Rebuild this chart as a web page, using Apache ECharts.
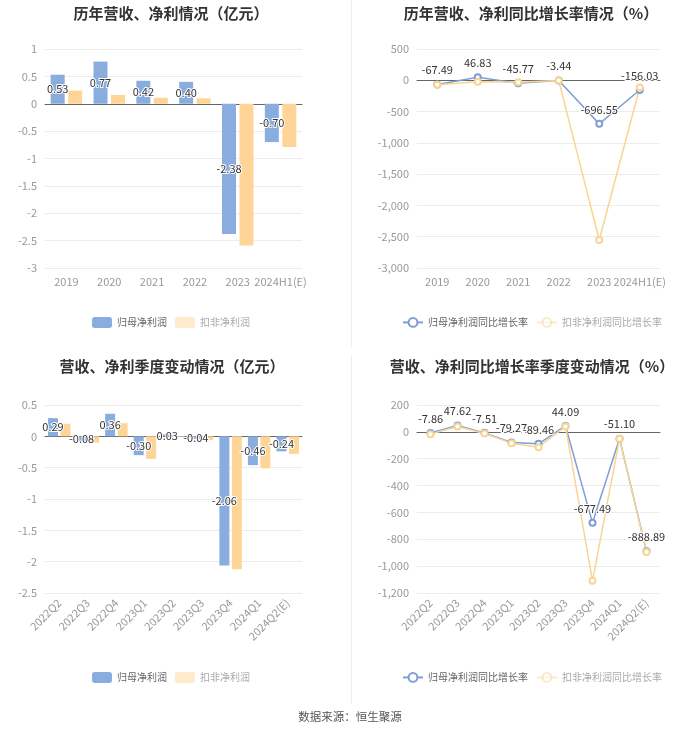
<!DOCTYPE html>
<html>
<head>
<meta charset="utf-8">
<script src="https://cdn.jsdelivr.net/npm/echarts@6/dist/echarts.min.js"></script>
<style>html,body{margin:0;padding:0;background:#fff}#c{width:700px;height:734px}</style>
</head>
<body>
<div id="c"></div>
<script>
const years = ['2019','2020','2021','2022','2023','2024H1(E)'];
const annualParent = [0.53, 0.77, 0.42, 0.40, -2.38, -0.70];
const annualDeducted = [0.24, 0.16, 0.11, 0.10, -2.59, -0.79];
const annualParentGrowth = [-67.49, 46.83, -45.77, -3.44, -696.55, -156.03];
const annualDeductedGrowth = [-72, -25, -32, -5, -2553, -115];

const quarters = ['2022Q2','2022Q3','2022Q4','2023Q1','2023Q2','2023Q3','2023Q4','2024Q1','2024Q2(E)'];
const qParent = [0.29, -0.08, 0.36, -0.30, 0.03, -0.04, -2.06, -0.46, -0.24];
const qDeducted = [0.20, -0.10, 0.21, -0.36, -0.01, -0.06, -2.12, -0.51, -0.28];
const qParentGrowth = [-7.86, 47.62, -7.51, -79.27, -89.46, 44.09, -677.49, -51.10, -888.89];
const qDeductedGrowth = [-17, 40, -12, -84, -114, 40, -1109, -52, -895];

const titles = ['历年营收、净利情况（亿元）','历年营收、净利同比增长率情况（%）','营收、净利季度变动情况（亿元）','营收、净利同比增长率季度变动情况（%）'];
const nameParent = '归母净利润', nameDeducted = '扣非净利润';
const nameParentG = '归母净利润同比增长率', nameDeductedG = '扣非净利润同比增长率';

const FONT = '"Noto Sans CJK SC", "Noto Sans", sans-serif';
const BLUE = '#8AADE0', YELLOW = '#FFD597', LBLUE = '#7F9ED6', LYELLOW = '#F8D593';

const chart = echarts.init(document.getElementById('c'));
const fmt2 = p => Number(p.value).toFixed(2);
const comma = v => Number(v).toLocaleString('en-US');

function xAxis(grid, data, rotate) {
  return {
    type: 'category', gridIndex: grid, data: data,
    axisLine: { onZero: true, lineStyle: { color: '#666' } },
    axisTick: { alignWithLabel: true, length: 4, lineStyle: { color: '#666' } },
    axisLabel: { color: '#999', fontSize: 11, fontFamily: FONT, rotate: rotate, margin: 8, interval: 0 }
  };
}
function yAxis(grid, min, max, interval, withComma) {
  return {
    type: 'value', gridIndex: grid, min: min, max: max, interval: interval,
    axisLine: { show: false }, axisTick: { show: false },
    splitLine: { lineStyle: { color: '#ECECEC' } },
    axisLabel: { color: '#999', fontSize: 11, fontFamily: FONT, formatter: withComma ? comma : null }
  };
}
const barLabel = { show: true, position: 'inside', formatter: fmt2, color: '#333', fontSize: 11, fontFamily: FONT, textBorderColor: '#fff', textBorderWidth: 2 };
const lineLabel = { show: true, position: 'top', formatter: fmt2, color: '#333', fontSize: 11, fontFamily: FONT, textBorderColor: '#fff', textBorderWidth: 2 };

function legend(left, top, a, b) {
  return {
    left: left, top: top, itemWidth: 20, itemHeight: 11, itemGap: 8,
    textStyle: { color: '#666', fontSize: 10, fontFamily: FONT },
    data: [{ name: a }, { name: b, textStyle: { color: '#aaa' }, itemStyle: { opacity: 0.5 }, lineStyle: { opacity: 0.5 } }]
  };
}
const titleStyle = { fontSize: 15, fontWeight: 'bold', color: '#333', fontFamily: FONT };

chart.setOption({
  animation: false,
  title: [
    { text: titles[0], left: 166, top: 1, textAlign: 'center', textStyle: titleStyle },
    { text: titles[1], left: 526, top: 1, textAlign: 'center', textStyle: titleStyle },
    { text: titles[2], left: 167, top: 354, textAlign: 'center', textStyle: titleStyle },
    { text: titles[3], left: 527, top: 354, textAlign: 'center', textStyle: titleStyle }
  ],
  legend: [
    legend(87, 312, nameParent, nameDeducted),
    legend(397, 312, nameParentG, nameDeductedG),
    legend(87, 667, nameParent, nameDeducted),
    legend(397, 667, nameParentG, nameDeductedG)
  ],
  grid: [
    { left: 45, right: 398, top: 49, bottom: 466 },
    { left: 417, right: 40, top: 49, bottom: 466 },
    { left: 45, right: 398, top: 405, bottom: 141 },
    { left: 417, right: 40, top: 405, bottom: 141 }
  ],
  xAxis: [xAxis(0, years, 0), xAxis(1, years, 0), xAxis(2, quarters, 45), xAxis(3, quarters, 45)],
  yAxis: [yAxis(0, -3, 1, 0.5, false), yAxis(1, -3000, 500, 500, true), yAxis(2, -2.5, 0.5, 0.5, false), yAxis(3, -1200, 200, 200, true)],
  series: [
    { name: nameParent, type: 'bar', xAxisIndex: 0, yAxisIndex: 0, data: annualParent, barWidth: 14, barGap: '25%', itemStyle: { color: BLUE }, label: barLabel },
    { name: nameDeducted, type: 'bar', xAxisIndex: 0, yAxisIndex: 0, data: annualDeducted, barWidth: 14, barGap: '25%', itemStyle: { color: YELLOW } },
    { name: nameParentG, type: 'line', xAxisIndex: 1, yAxisIndex: 1, data: annualParentGrowth, symbol: 'emptyCircle', symbolSize: 6, itemStyle: { color: LBLUE }, lineStyle: { width: 1.5, color: LBLUE }, label: lineLabel },
    { name: nameDeductedG, type: 'line', xAxisIndex: 1, yAxisIndex: 1, data: annualDeductedGrowth, symbol: 'emptyCircle', symbolSize: 6, itemStyle: { color: LYELLOW }, lineStyle: { width: 1.5, color: LYELLOW } },
    { name: nameParent, type: 'bar', xAxisIndex: 2, yAxisIndex: 2, data: qParent, barWidth: 10, barGap: '25%', itemStyle: { color: BLUE }, label: barLabel },
    { name: nameDeducted, type: 'bar', xAxisIndex: 2, yAxisIndex: 2, data: qDeducted, barWidth: 10, barGap: '25%', itemStyle: { color: YELLOW } },
    { name: nameParentG, type: 'line', xAxisIndex: 3, yAxisIndex: 3, data: qParentGrowth, symbol: 'emptyCircle', symbolSize: 6, itemStyle: { color: LBLUE }, lineStyle: { width: 1.5, color: LBLUE }, label: lineLabel },
    { name: nameDeductedG, type: 'line', xAxisIndex: 3, yAxisIndex: 3, data: qDeductedGrowth, symbol: 'emptyCircle', symbolSize: 6, itemStyle: { color: LYELLOW }, lineStyle: { width: 1.5, color: LYELLOW } }
  ],
  graphic: [
    { type: 'line', shape: { x1: 351.5, y1: 0, x2: 351.5, y2: 347 }, style: { stroke: '#EEEEEE', lineWidth: 1 } },
    { type: 'line', shape: { x1: 351.5, y1: 355, x2: 351.5, y2: 704 }, style: { stroke: '#EEEEEE', lineWidth: 1 } },
    { type: 'text', x: 350, y: 717, style: { text: '数据来源：恒生聚源', fill: '#555', fontSize: 11.5, fontFamily: FONT, align: 'center', verticalAlign: 'middle' } }
  ]
});
</script>
</body>
</html>
